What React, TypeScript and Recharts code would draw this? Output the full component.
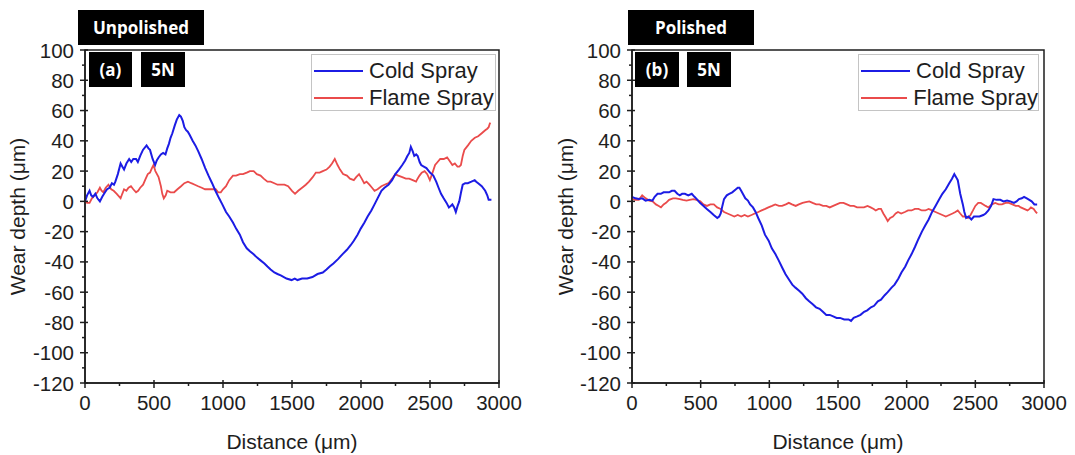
import { LineChart, Line, XAxis, YAxis, Legend, ReferenceArea } from 'recharts'

// wear profiles across the track, [distance µm, depth µm]
const unpolishedCold: [number, number][] = [
  [0, 0], [15, 4], [33, 7], [45, 4], [58, 3], [75, 5], [90, 2], [108, 0], [125, 3], [145, 6], [160, 8], [178, 9],
  [195, 12], [210, 11], [220, 13], [238, 18], [258, 25], [270, 23], [283, 21], [300, 25], [320, 28], [335, 26],
  [350, 28], [370, 28], [383, 26], [400, 30], [420, 34], [446, 37], [460, 35], [471, 34], [490, 28], [508, 24],
  [520, 27], [533, 29], [550, 31], [566, 32], [583, 31], [596, 35], [608, 38], [620, 42], [633, 45], [650, 50],
  [665, 54], [683, 57], [695, 56], [709, 53], [720, 49], [733, 47], [745, 46], [758, 44], [780, 40], [800, 37],
  [821, 33], [845, 28], [871, 22], [895, 17], [921, 12], [945, 7], [972, 2], [995, -2], [1022, -7], [1045, -10],
  [1072, -14], [1095, -18], [1122, -22], [1145, -27], [1172, -31], [1195, -33], [1222, -35], [1245, -37],
  [1272, -39], [1300, -41], [1322, -43], [1345, -45], [1372, -47], [1395, -48], [1422, -49], [1460, -51],
  [1497, -52], [1520, -51], [1540, -52], [1573, -51], [1610, -51], [1648, -50], [1685, -48], [1723, -47],
  [1750, -45], [1773, -43], [1800, -41], [1835, -38], [1865, -35], [1898, -32], [1925, -29], [1948, -26],
  [1975, -22], [1998, -18], [2025, -14], [2048, -10], [2075, -6], [2098, -2], [2120, 2], [2148, 7], [2170, 9],
  [2199, 11], [2225, 14], [2249, 18], [2275, 21], [2299, 24], [2320, 27], [2336, 30], [2350, 32], [2361, 36],
  [2375, 33], [2386, 30], [2400, 31], [2411, 30], [2425, 26], [2436, 24], [2455, 23], [2474, 22], [2500, 19],
  [2524, 17], [2545, 13], [2562, 9], [2580, 5], [2599, 2], [2620, -1], [2637, -4], [2650, -3], [2662, -2],
  [2675, -4], [2687, -7], [2700, -3], [2712, 0], [2725, 6], [2737, 11], [2755, 12], [2774, 12], [2800, 13],
  [2824, 14], [2835, 13], [2849, 12], [2875, 10], [2900, 7], [2915, 4], [2925, 1], [2945, 1],
]

const unpolishedFlame: [number, number][] = [
  [0, 0], [15, -1], [33, -1], [50, 2], [70, 4], [90, 6], [108, 9], [120, 7], [133, 6], [150, 9], [170, 11],
  [190, 8], [208, 7], [230, 5], [258, 2], [270, 5], [283, 8], [300, 7], [315, 9], [333, 10], [350, 8], [370, 6],
  [385, 7], [400, 9], [421, 11], [440, 15], [455, 18], [471, 19], [485, 22], [496, 24], [510, 20], [533, 16],
  [550, 10], [560, 5], [571, 2], [585, 4], [596, 7], [620, 6], [646, 6], [670, 8], [696, 10], [720, 12],
  [746, 13], [770, 12], [796, 11], [820, 10], [846, 9], [870, 8], [896, 8], [920, 8], [947, 8], [965, 6],
  [984, 6], [1000, 8], [1022, 10], [1045, 14], [1072, 17], [1095, 17], [1122, 18], [1145, 18], [1172, 19],
  [1195, 20], [1222, 20], [1245, 18], [1272, 17], [1295, 15], [1322, 13], [1345, 13], [1372, 12], [1395, 11],
  [1422, 11], [1445, 11], [1472, 10], [1500, 7], [1522, 5], [1545, 7], [1573, 9], [1600, 11], [1623, 13],
  [1650, 16], [1673, 19], [1700, 19], [1723, 20], [1750, 21], [1773, 23], [1790, 25], [1810, 28], [1830, 24],
  [1848, 21], [1870, 18], [1898, 17], [1920, 15], [1948, 14], [1965, 16], [1986, 18], [2005, 15], [2023, 12],
  [2040, 13], [2061, 11], [2080, 9], [2098, 7], [2120, 8], [2148, 10], [2170, 11], [2199, 12], [2225, 15],
  [2249, 18], [2270, 17], [2299, 16], [2325, 15], [2349, 15], [2375, 14], [2399, 13], [2410, 15], [2424, 17],
  [2440, 19], [2461, 20], [2480, 18], [2499, 14], [2515, 18], [2537, 24], [2555, 26], [2574, 28], [2600, 28],
  [2624, 29], [2640, 27], [2662, 24], [2680, 25], [2699, 23], [2712, 23], [2724, 24], [2737, 30], [2749, 34],
  [2775, 37], [2799, 40], [2825, 42], [2849, 43], [2875, 45], [2900, 47], [2915, 48], [2925, 49], [2932, 51],
  [2937, 52],
]

const polishedCold: [number, number][] = [
  [0, 3], [25, 2], [50, 1.5], [75, 2], [99, 0.5], [125, 1], [149, 0.5], [165, 3], [186, 5], [210, 5], [230, 6],
  [248, 6], [270, 6], [290, 7], [310, 7], [330, 5], [348, 4], [365, 5], [385, 5], [410, 4], [435, 5], [455, 3],
  [472, 1.5], [495, -1], [521, -3], [545, -5], [571, -7], [595, -9], [621, -11], [635, -10], [646, -8],
  [658, -3], [670, 1.5], [690, 4], [708, 5], [730, 6], [757, 8], [770, 9], [782, 9], [795, 7], [807, 5],
  [825, 2], [844, 0.5], [860, -2], [881, -4], [900, -7], [919, -11], [945, -16], [968, -22], [995, -26],
  [1018, -31], [1045, -35], [1068, -39], [1095, -44], [1117, -48], [1145, -52], [1167, -55], [1190, -57],
  [1217, -59], [1240, -61], [1266, -64], [1290, -66], [1316, -68], [1340, -70], [1366, -71], [1390, -73],
  [1415, -75], [1440, -75], [1465, -76], [1490, -77], [1515, -77], [1545, -78], [1577, -78], [1595, -79],
  [1614, -77], [1640, -76], [1664, -75], [1690, -73], [1713, -72], [1740, -70], [1763, -69], [1790, -66],
  [1813, -65], [1840, -62], [1862, -60], [1890, -57], [1912, -55], [1940, -51], [1962, -47], [1990, -43],
  [2011, -39], [2035, -35], [2061, -30], [2085, -25], [2111, -20], [2135, -16], [2160, -12], [2185, -7],
  [2210, -3], [2235, 1], [2260, 5], [2285, 8], [2310, 12], [2330, 15], [2347, 18], [2360, 16], [2372, 14],
  [2390, 5], [2409, -2], [2420, -7], [2433, -11], [2450, -10], [2471, -12], [2490, -10], [2508, -10],
  [2530, -10], [2558, -9], [2575, -8], [2595, -6], [2615, -3], [2632, 1.5], [2655, 1], [2682, 1], [2705, 0],
  [2731, 0.5], [2755, 0], [2781, -1], [2800, 0], [2818, 1.5], [2838, 2], [2855, 3], [2875, 2], [2893, 1],
  [2910, 0], [2930, -2], [2950, -2],
]

const polishedFlame: [number, number][] = [
  [0, 1.5], [25, 1], [50, 1], [74, 4], [100, 2], [124, 0.5], [150, 0], [174, -2], [195, -3], [211, -4],
  [230, -2], [248, -1], [270, 1], [298, 2], [320, 2], [348, 1.5], [370, 1], [397, 0.5], [420, 1], [447, 1.5],
  [470, 1], [497, 0], [520, -2], [546, -3], [570, -2], [596, -2], [620, -4], [646, -5], [670, -7], [695, -8],
  [720, -9], [745, -10], [770, -9], [795, -10], [820, -9], [844, -10], [870, -9], [894, -8], [920, -7],
  [944, -6], [970, -5], [993, -4], [1020, -3], [1043, -2], [1070, -3], [1093, -3], [1120, -2], [1142, -1],
  [1165, -2], [1192, -3], [1215, -2], [1242, -1], [1265, -0.5], [1291, 0], [1315, -1], [1341, -2], [1365, -2],
  [1391, -3], [1415, -3], [1440, -4], [1465, -3], [1490, -2], [1515, -1], [1540, -1], [1565, -2], [1589, -3],
  [1615, -3], [1639, -4], [1665, -4], [1689, -4], [1715, -3], [1738, -4], [1760, -5], [1775, -6], [1795, -5],
  [1813, -5], [1830, -8], [1850, -11], [1862, -13], [1880, -11], [1900, -10], [1920, -8], [1937, -7],
  [1960, -8], [1987, -7], [2010, -6], [2036, -6], [2060, -5], [2086, -5], [2110, -6], [2136, -6], [2160, -5],
  [2185, -6], [2210, -7], [2235, -8], [2260, -9], [2285, -10], [2310, -9], [2334, -8], [2355, -7], [2372, -6],
  [2390, -8], [2409, -10], [2430, -10], [2446, -11], [2465, -9], [2483, -6], [2500, -3], [2521, -1],
  [2540, -1], [2558, -2], [2575, -3], [2595, -4], [2620, -2], [2645, -1], [2670, -2], [2694, -2], [2720, -1],
  [2744, -1], [2770, -2], [2794, -3], [2815, -3], [2831, -4], [2855, -5], [2880, -6], [2895, -5], [2905, -4],
  [2925, -5], [2940, -7], [2950, -8],
]

const xTicks = [0, 250, 500, 750, 1000, 1250, 1500, 1750, 2000, 2250, 2500, 2750, 3000]
const yTicks = [-120, -110, -100, -90, -80, -70, -60, -50, -40, -30, -20, -10, 0, 10, 20, 30, 40, 50, 60, 70, 80, 90, 100]

const COLD = '#1c1ce4'
const FLAME = '#ea4b4b'
const FONT = '"Liberation Sans", Arial, sans-serif'
const INK = '#1e1e1e'

const toPoints = (rows: [number, number][]) => rows.map(([x, y]) => ({ x, y }))

function XTick({ x, y, payload }: any) {
  const major = payload.value % 500 === 0
  return (
    <g>
      <line x1={x} x2={x} y1={y - (major ? 3 : 0)} y2={y + (major ? 5 : 3)} stroke={INK} strokeWidth={1.5} />
      {major && (
        <text x={x} y={y + 19} textAnchor="middle" dominantBaseline="central" fontSize={20.5} fontFamily={FONT} fill={INK}>
          {payload.value}
        </text>
      )}
    </g>
  )
}

function YTick({ x, y, payload }: any) {
  const major = payload.value % 20 === 0
  return (
    <g>
      <line x1={x - (major ? 5 : 3)} x2={x + (major ? 3 : 0)} y1={y} y2={y} stroke={INK} strokeWidth={1.5} />
      {major && (
        <text x={x - 11} y={y} textAnchor="end" dominantBaseline="central" fontSize={20.5} fontFamily={FONT} fill={INK}>
          {payload.value}
        </text>
      )}
    </g>
  )
}

function SprayLegend({ width }: { width: number }) {
  const row = (color: string, name: string) => (
    <div style={{ display: 'flex', alignItems: 'center', height: 27 }}>
      <div style={{ width: 49, height: 2, background: color, marginRight: 6, marginLeft: 2 }} />
      <span>{name}</span>
    </div>
  )
  return (
    <div
      style={{
        border: '1px solid #c4c4c4',
        background: '#fff',
        width,
        height: 53,
        paddingTop: 2,
        fontFamily: FONT,
        fontSize: 22,
        color: INK,
        lineHeight: '27px',
        boxSizing: 'content-box',
        whiteSpace: 'nowrap',
      }}
    >
      {row(COLD, 'Cold Spray')}
      {row(FLAME, 'Flame Spray')}
    </div>
  )
}

const tag = (left: number, top: number, width: number, height: number, text: string) => (
  <div
    style={{
      position: 'absolute',
      left,
      top,
      width,
      height,
      background: '#000',
      color: '#fff',
      fontFamily: '"Open Sans", sans-serif',
      fontWeight: 700,
      fontSize: 17,
      display: 'flex',
      alignItems: 'center',
      justifyContent: 'center',
    }}
  >
    {text}
  </div>
)

type PanelProps = {
  left: number
  width: number
  axisWidth: number
  marginRight: number
  yLabelX: number
  cold: [number, number][]
  flame: [number, number][]
  legendLeft: number
  legendWidth: number
}

function Panel({ left, width, axisWidth, marginRight, yLabelX, cold, flame, legendLeft, legendWidth }: PanelProps) {
  return (
    <div style={{ position: 'absolute', left, top: 0 }}>
      <LineChart width={width} height={455} margin={{ top: 50, right: marginRight, bottom: 0, left: 0 }}>
        <XAxis
          type="number"
          dataKey="x"
          domain={[0, 3000]}
          ticks={xTicks}
          interval={0}
          height={72}
          tickSize={0}
          tickMargin={0}
          tick={<XTick />}
          stroke={INK}
          strokeWidth={1.5}
          allowDataOverflow
          label={{
            content: ({ viewBox }: any) => (
              <text
                x={viewBox.x + viewBox.width / 2}
                y={441}
                textAnchor="middle"
                dominantBaseline="central"
                fontSize={21}
                fontFamily={FONT}
                fill={INK}
              >
                Distance (μm)
              </text>
            ),
          }}
        />
        <YAxis
          type="number"
          domain={[-120, 100]}
          ticks={yTicks}
          interval={0}
          width={axisWidth}
          tickSize={0}
          tickMargin={0}
          tick={<YTick />}
          stroke={INK}
          strokeWidth={1.5}
          allowDataOverflow
          label={{
            content: ({ viewBox }: any) => {
              const cy = viewBox.y + viewBox.height / 2
              return (
                <text
                  x={yLabelX}
                  y={cy}
                  transform={`rotate(-90, ${yLabelX}, ${cy})`}
                  textAnchor="middle"
                  dominantBaseline="central"
                  fontSize={21}
                  fontFamily={FONT}
                  fill={INK}
                >
                  Wear depth (μm)
                </text>
              )
            },
          }}
        />
        <ReferenceArea x1={0} x2={3000} y1={-120} y2={100} fill="none" stroke={INK} strokeWidth={1.5} ifOverflow="visible" />
        <Legend
          layout="vertical"
          align="center"
          verticalAlign="middle"
          content={() => <SprayLegend width={legendWidth} />}
          wrapperStyle={{ left: legendLeft, top: 54, width: 'auto' }}
        />
        <Line
          name="Flame Spray"
          data={toPoints(flame)}
          dataKey="y"
          stroke={FLAME}
          strokeWidth={1.8}
          dot={false}
          type="linear"
          isAnimationActive={false}
        />
        <Line
          name="Cold Spray"
          data={toPoints(cold)}
          dataKey="y"
          stroke={COLD}
          strokeWidth={2}
          dot={false}
          type="linear"
          isAnimationActive={false}
        />
      </LineChart>
    </div>
  )
}

export default function App() {
  return (
    <div style={{ position: 'absolute', left: 0, top: 0, width: 1075, height: 455, background: '#fff', overflow: 'hidden' }}>
      <Panel left={0} width={540} axisWidth={85} marginRight={41} yLabelX={17} cold={unpolishedCold} flame={unpolishedFlame} legendLeft={311} legendWidth={183} />
      <Panel left={540} width={535} axisWidth={92} marginRight={31} yLabelX={25} cold={polishedCold} flame={polishedFlame} legendLeft={318} legendWidth={179} />
      {tag(78, 10, 126, 35, 'Unpolished')}
      {tag(89, 52, 43, 35, '(a)')}
      {tag(141, 52, 44, 35, '5N')}
      {tag(628, 10, 126, 35, 'Polished')}
      {tag(635, 52, 44, 35, '(b)')}
      {tag(687, 52, 44, 35, '5N')}
    </div>
  )
}
